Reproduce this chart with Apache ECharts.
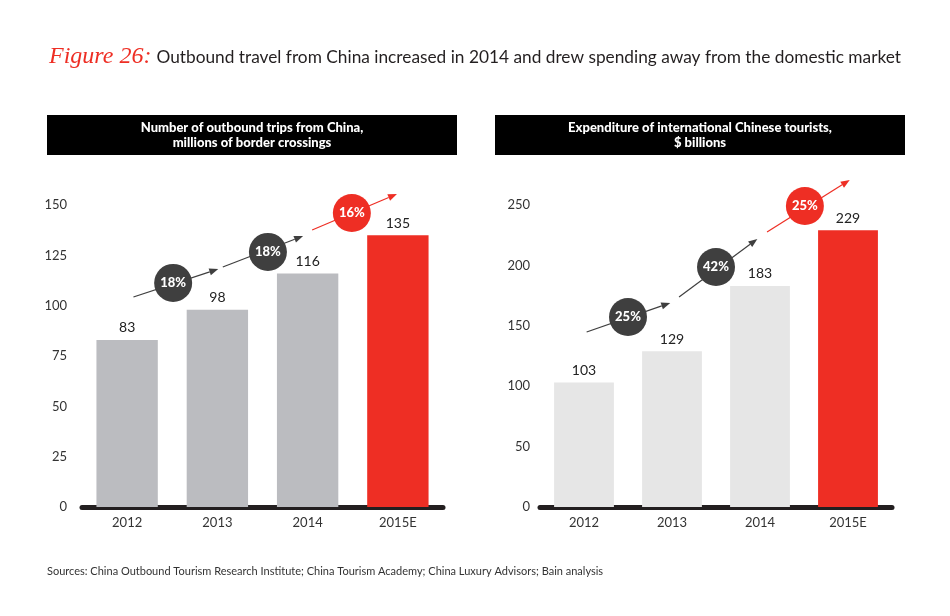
<!DOCTYPE html>
<html>
<head>
<meta charset="utf-8">
<title>Figure 26</title>
<script src="https://cdn.jsdelivr.net/npm/echarts@6/dist/echarts.min.js"></script>
<style>
  html, body { margin: 0; padding: 0; background: #fff; }
</style>
</head>
<body>
<div id="main" style="width:950px;height:616px;"></div>
<script type="text/javascript">
// categories shared by both panels
var years = ['2012', '2013', '2014', '2015E'];

// left panel: outbound trips, millions of border crossings
var trips = [83, 98, 116, 135];
// right panel: expenditure, $ billions
var spend = [103, 129, 183, 229];

// growth bubbles (label text) for each panel
var tripsGrowth = ['18%', '18%', '16%'];
var spendGrowth = ['25%', '42%', '25%'];

// arrow paths in data units: [x start, y start, x end, y end, circle x, circle y]
// x is measured in category index units (0 = 2012 ... 3 = 2015E)
var tripsArrows = [
    [0.07, 104.3, 1.01, 118.2, 0.51, 111.3],
    [1.06, 119.2, 1.95, 134.6, 1.56, 126.7],
    [2.05, 137.6, 2.99, 155.5, 2.49, 146.0]
];
var spendArrows = [
    [0.03, 144.9, 0.98, 168.9, 0.50, 157.3],
    [1.08, 173.8, 1.97, 221.9, 1.50, 198.7],
    [2.08, 227.6, 3.02, 270.7, 2.51, 249.2]
];

var RED = '#ee2e24';
var DARK = '#3f3f3f';
var FONT = 'Lato, "Noto Sans", sans-serif';

function barData(vals, base) {
    return vals.map(function (v, i) {
        return { value: v, itemStyle: { color: i === vals.length - 1 ? RED : base } };
    });
}

function arrowSeries(arrows, labels, xIdx, yIdx) {
    return {
        type: 'custom',
        xAxisIndex: xIdx,
        yAxisIndex: yIdx,
        silent: true,
        clip: false,
        z: 10,
        encode: { x: [0, 2, 4], y: [1, 3, 5] },
        data: arrows,
        renderItem: function (params, api) {
            var p1 = api.coord([api.value(0), api.value(1)]);
            var p2 = api.coord([api.value(2), api.value(3)]);
            var c = api.coord([api.value(4), api.value(5)]);
            var last = params.dataIndex === labels.length - 1;
            var col = last ? RED : DARK;
            var ang = Math.atan2(p2[1] - p1[1], p2[0] - p1[0]);
            var L = 9, W = 3.5;
            var bx = p2[0] - L * Math.cos(ang), by = p2[1] - L * Math.sin(ang);
            var head = [
                p2,
                [bx + W * Math.sin(ang), by - W * Math.cos(ang)],
                [bx - W * Math.sin(ang), by + W * Math.cos(ang)]
            ];
            return {
                type: 'group',
                children: [
                    { type: 'line', shape: { x1: p1[0], y1: p1[1], x2: bx, y2: by },
                      style: { stroke: col, lineWidth: 1.2 } },
                    { type: 'polygon', shape: { points: head }, style: { fill: col } },
                    { type: 'circle', shape: { cx: c[0], cy: c[1], r: 19 },
                      style: { fill: col } },
                    { type: 'text', x: c[0], y: c[1],
                      style: { text: labels[params.dataIndex], fill: '#fff',
                               font: '900 13px ' + FONT, align: 'center', verticalAlign: 'middle' } }
                ]
            };
        }
    };
}

function headerBox(x, lines) {
    return {
        type: 'group',
        left: x, top: 115,
        children: [
            { type: 'rect', shape: { x: 0, y: 0, width: 410, height: 40 }, style: { fill: '#000' } },
            { type: 'text', x: 205, y: 20,
              style: { text: lines, fill: '#fff', font: '900 13px ' + FONT,
                       align: 'center', verticalAlign: 'middle', lineHeight: 15 } }
        ]
    };
}

var yLabel = { color: '#333', fontSize: 13, fontFamily: FONT };
var xLabel = { color: '#333', fontSize: 13, fontFamily: FONT, margin: 9 };

var myChart = echarts.init(document.getElementById('main'));
myChart.setOption({
    backgroundColor: '#fff',
    animation: false,
    title: {
        left: 44, top: 40,
        text: '{a|Figure 26:} {b|Outbound travel from China increased in 2014 and drew spending away from the domestic market}',
        textStyle: {
            fontWeight: 'normal',
            rich: {
                a: { color: RED, fontSize: 24, fontStyle: 'italic', fontWeight: 'normal',
                     fontFamily: '"Liberation Serif", serif' },
                b: { color: '#231f20', fontSize: 17.3, fontWeight: 'normal', fontFamily: FONT }
            }
        }
    },
    graphic: [
        headerBox(47, 'Number of outbound trips from China,\nmillions of border crossings'),
        headerBox(495, 'Expenditure of international Chinese tourists,\n$ billions'),
        { type: 'text', left: 47, top: 566,
          style: { text: 'Sources: China Outbound Tourism Research Institute; China Tourism Academy; China Luxury Advisors; Bain analysis',
                   fill: '#333', font: '11px ' + FONT } }
    ],
    grid: [
        { left: 82, right: 507, top: 205, bottom: 109 },
        { left: 540, right: 58, top: 205, bottom: 109 }
    ],
    xAxis: [
        { type: 'category', gridIndex: 0, data: years,
          axisLine: { lineStyle: { color: '#231f20', width: 5 } },
          axisTick: { show: false }, axisLabel: xLabel },
        { type: 'category', gridIndex: 1, data: years,
          axisLine: { lineStyle: { color: '#231f20', width: 5 } },
          axisTick: { show: false }, axisLabel: xLabel },
        // hidden value axes used to place the growth arrows between the bars
        { type: 'value', gridIndex: 0, min: -0.5, max: 3.5, show: false },
        { type: 'value', gridIndex: 1, min: -0.5, max: 3.5, show: false }
    ],
    yAxis: [
        { type: 'value', gridIndex: 0, min: 0, max: 150, interval: 25,
          axisLine: { show: false }, axisTick: { show: false }, splitLine: { show: false },
          axisLabel: Object.assign({ margin: 15 }, yLabel) },
        { type: 'value', gridIndex: 1, min: 0, max: 250, interval: 50,
          axisLine: { show: false }, axisTick: { show: false }, splitLine: { show: false },
          axisLabel: Object.assign({ margin: 10 }, yLabel) }
    ],
    series: [
        { name: 'Outbound trips', type: 'bar', xAxisIndex: 0, yAxisIndex: 0,
          barWidth: '68%', data: barData(trips, '#bbbcc0'),
          label: { show: true, position: 'top', distance: 5, color: '#222', fontSize: 14, fontFamily: FONT } },
        { name: 'Expenditure', type: 'bar', xAxisIndex: 1, yAxisIndex: 1,
          barWidth: '68%', data: barData(spend, '#e6e6e6'),
          label: { show: true, position: 'top', distance: 5, color: '#222', fontSize: 14, fontFamily: FONT } },
        arrowSeries(tripsArrows, tripsGrowth, 2, 0),
        arrowSeries(spendArrows, spendGrowth, 3, 1)
    ]
});
</script>
</body>
</html>
